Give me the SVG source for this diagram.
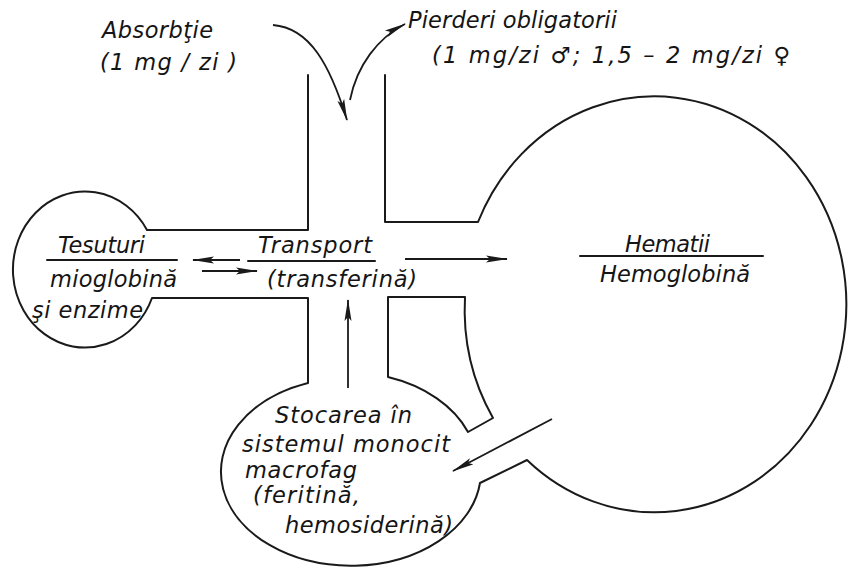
<svg xmlns="http://www.w3.org/2000/svg" width="849" height="569" viewBox="0 0 849 569">
<defs>
<style>
.ln{fill:none;stroke:#1a1a1a;stroke-width:2;stroke-linejoin:round;stroke-linecap:round}
.ar{fill:none;stroke:#1a1a1a;stroke-width:1.8;marker-end:url(#ah)}
text{font-family:"DejaVu Sans","Liberation Sans",sans-serif;font-style:italic;font-size:22.5px;fill:#151515}
</style>
<marker id="ah" viewBox="0 0 22 8" refX="21" refY="4" markerWidth="22" markerHeight="8" markerUnits="userSpaceOnUse" orient="auto">
<path d="M0,0.5 L22,4 L0,7.5 L4,4 Z" fill="#1a1a1a"/>
</marker>
</defs>
<rect width="849" height="569" fill="#fff"/>

<g id="outline">
<path class="ln" d="M308,75 L308,230 L147,230 A72,78 0 1 0 152,298 L308,298 L308,383 A130,94 0 1 0 480,483 L527,460 A192,208 0 1 0 478,222 L385,222 L385,75"/>
<path class="ln" d="M388,377 L388,297 L465,297 A192,208 0 0 0 493,418 L468,432 A130,94 0 0 0 388,377"/>
</g>

<g id="tesuturi">
<text x="58" y="253" textLength="87" lengthAdjust="spacing">Tesuturi</text>
<line class="ln" x1="47" y1="260" x2="177" y2="260" stroke-width="1.6"/>
<text x="50" y="287" textLength="127" lengthAdjust="spacing">mioglobină</text>
<text x="32" y="318" textLength="111" lengthAdjust="spacing">şi enzime</text>
</g>

<g id="transport">
<text x="258" y="253" textLength="114" lengthAdjust="spacing">Transport</text>
<line class="ln" x1="248" y1="261" x2="375" y2="261" stroke-width="1.6"/>
<text x="267" y="287" textLength="150" lengthAdjust="spacing">(transferină)</text>
</g>

<g id="hematii">
<text x="625" y="252" textLength="85" lengthAdjust="spacing">Hematii</text>
<line class="ln" x1="580" y1="256" x2="763" y2="256" stroke-width="1.6"/>
<text x="600" y="282" textLength="150" lengthAdjust="spacing">Hemoglobină</text>
</g>

<g id="stocare">
<text x="275" y="423" textLength="137" lengthAdjust="spacing">Stocarea în</text>
<text x="242" y="452" textLength="208" lengthAdjust="spacing">sistemul  monocit</text>
<text x="245" y="478" textLength="112" lengthAdjust="spacing">macrofag</text>
<text x="253" y="503" textLength="107" lengthAdjust="spacing">(feritină,</text>
<text x="285" y="533" textLength="168" lengthAdjust="spacing">hemosiderină)</text>
</g>

<g id="absorbtie">
<text x="102" y="38" textLength="111" lengthAdjust="spacing">Absorbţie</text>
<text x="100" y="70" textLength="137" lengthAdjust="spacing">(1 mg / zi )</text>
</g>

<g id="pierderi">
<text x="408" y="28" textLength="209" lengthAdjust="spacing">Pierderi obligatorii</text>
<text x="432" y="63" textLength="358" lengthAdjust="spacing">(1 mg/zi  ♂; 1,5 – 2 mg/zi ♀</text>
</g>

<g id="connectors">
<path class="ar" d="M273,25 C310,28 330,65 347,120"/>
<path class="ar" d="M350,100 C357,65 378,38 405,24"/>
<line class="ar" x1="240" y1="260" x2="193" y2="260"/>
<line class="ar" x1="202" y1="271" x2="257" y2="271"/>
<line class="ar" x1="405" y1="259" x2="507" y2="259"/>
<line class="ar" x1="348" y1="388" x2="348" y2="300"/>
<line class="ar" x1="552" y1="419" x2="453" y2="471"/>
</g>
</svg>
